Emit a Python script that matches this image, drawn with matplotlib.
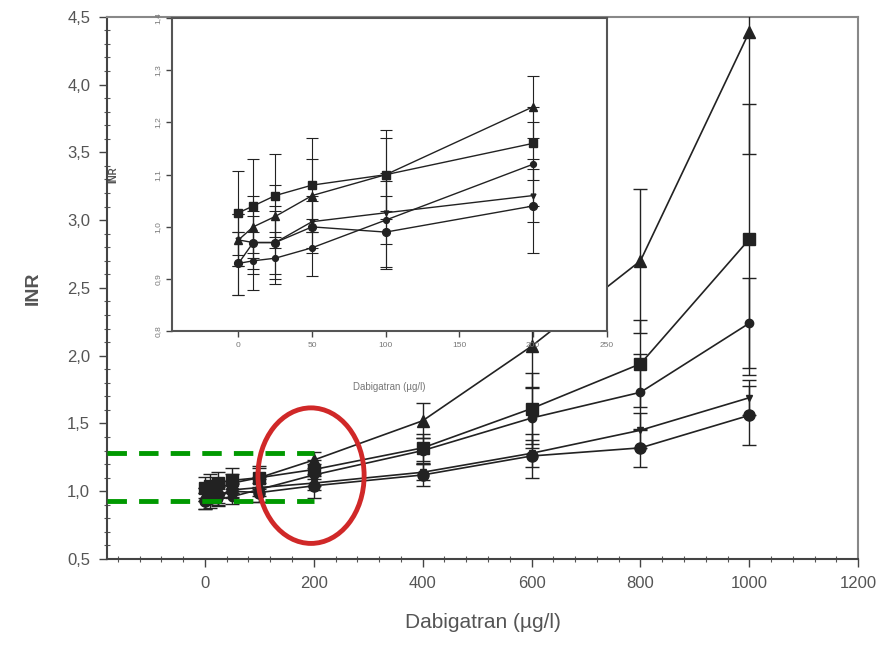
import matplotlib
matplotlib.use('Agg')
import matplotlib.pyplot as plt
from matplotlib.patches import Ellipse
from matplotlib.ticker import MultipleLocator, FuncFormatter

plt.rcParams['font.family'] = ['Liberation Sans', 'DejaVu Sans']

# dabigatran concentration (ug/l) and INR per plasma series (mean, SD)
dose = [0, 10, 25, 50, 100, 200, 400, 600, 800, 1000]
inr_tri = [0.975, 1.00, 1.02, 1.06, 1.10, 1.23, 1.52, 2.07, 2.70, 4.39]
err_tri = [0.05, 0.06, 0.06, 0.07, 0.085, 0.06, 0.13, 0.30, 0.53, 0.90]
inr_sq = [1.027, 1.04, 1.06, 1.08, 1.10, 1.16, 1.32, 1.61, 1.94, 2.86]
err_sq = [0.08, 0.09, 0.08, 0.09, 0.07, 0.07, 0.10, 0.26, 0.32, 1.00]
inr_dia = [0.93, 0.935, 0.94, 0.96, 1.013, 1.12, 1.30, 1.54, 1.73, 2.24]
err_dia = [0.06, 0.055, 0.05, 0.055, 0.09, 0.08, 0.09, 0.22, 0.28, 0.33]
inr_inv = [0.975, 0.97, 0.97, 1.01, 1.027, 1.06, 1.14, 1.28, 1.45, 1.69]
err_inv = [0.05, 0.05, 0.06, 0.05, 0.06, 0.05, 0.06, 0.10, 0.13, 0.13]
inr_circ = [0.93, 0.97, 0.97, 1.00, 0.99, 1.04, 1.12, 1.26, 1.32, 1.56]
err_circ = [0.06, 0.06, 0.07, 0.05, 0.07, 0.09, 0.08, 0.16, 0.14, 0.22]

# highlighted INR band and region
band = [0.93, 1.28]
band_end = 200

series = [(inr_tri, err_tri, '^', 8), (inr_sq, err_sq, 's', 8),
          (inr_dia, err_dia, 'o', 6), (inr_inv, err_inv, 'v', 5),
          (inr_circ, err_circ, 'o', 8)]

comma = FuncFormatter(lambda v, p: ('%.1f' % v).replace('.', ','))
txt = '#555555'

fig = plt.figure(figsize=(8.83, 6.47), dpi=100)
ax = fig.add_axes([0.121, 0.136, 0.851, 0.838])

for y, e, m, ms in series:
    ax.errorbar(dose, y, yerr=e, color='#222222', marker=m, markersize=ms,
                linewidth=1.2, elinewidth=1.0, capsize=5, capthick=1.0, zorder=3)

ax.set_xlim(-180, 1200)
ax.set_ylim(0.5, 4.5)
ax.xaxis.set_major_locator(MultipleLocator(200))
ax.xaxis.set_minor_locator(MultipleLocator(40))
ax.yaxis.set_major_locator(MultipleLocator(0.5))
ax.yaxis.set_minor_locator(MultipleLocator(0.1))
ax.yaxis.set_major_formatter(comma)
ax.tick_params(which='major', direction='out', length=6, width=1, colors='#444444',
               labelcolor=txt, labelsize=12, pad=6)
ax.tick_params(which='minor', direction='inout', length=4, width=0.8, colors='#555555')
for s in ax.spines.values():
    s.set_color('#888888')
    s.set_linewidth(1.5)
ax.spines['left'].set_color('#444444')
ax.spines['bottom'].set_color('#444444')
ax.set_xlabel('Dabigatran (µg/l)', fontsize=15, color=txt, labelpad=16)
ax.set_ylabel('INR', fontsize=14, color=txt, labelpad=18, fontweight='bold')

for b in band:
    ax.plot([-180, band_end], [b, b], color='#009900', linewidth=3.5,
            dashes=(4, 2.5), zorder=5, clip_on=False)
ax.add_patch(Ellipse((195, 1.115), 195, 1.0, fill=False, edgecolor='#d02828',
                     linewidth=3.5, zorder=6))

# inset: low concentration range
ins = fig.add_axes([0.195, 0.488, 0.492, 0.484])
ins.set_facecolor('white')
for y, e, m, ms in series:
    ins.errorbar(dose[:6], y[:6], yerr=e[:6], color='#222222', marker=m,
                 markersize=ms * 0.7, linewidth=1.0, elinewidth=0.8,
                 capsize=4, capthick=0.8)
ins.set_xlim(-45, 250)
ins.set_ylim(0.8, 1.4)
ins.xaxis.set_major_locator(MultipleLocator(50))
ins.yaxis.set_major_locator(MultipleLocator(0.1))
ins.yaxis.set_major_formatter(comma)
ins.tick_params(direction='out', length=4, width=1, colors='#444444',
                labelcolor='#777777', labelsize=6)
for lab in ins.get_yticklabels():
    lab.set_rotation(90)
    lab.set_va('center')
for s in ins.spines.values():
    s.set_color('#555555')
    s.set_linewidth(1.5)
ins.set_xlabel('Dabigatran (µg/l)', fontsize=7, color='#777777', labelpad=24)
ins.set_ylabel('INR', fontsize=7, color='#555555', labelpad=26, fontweight='bold')

fig.savefig('out.png', dpi=100)
